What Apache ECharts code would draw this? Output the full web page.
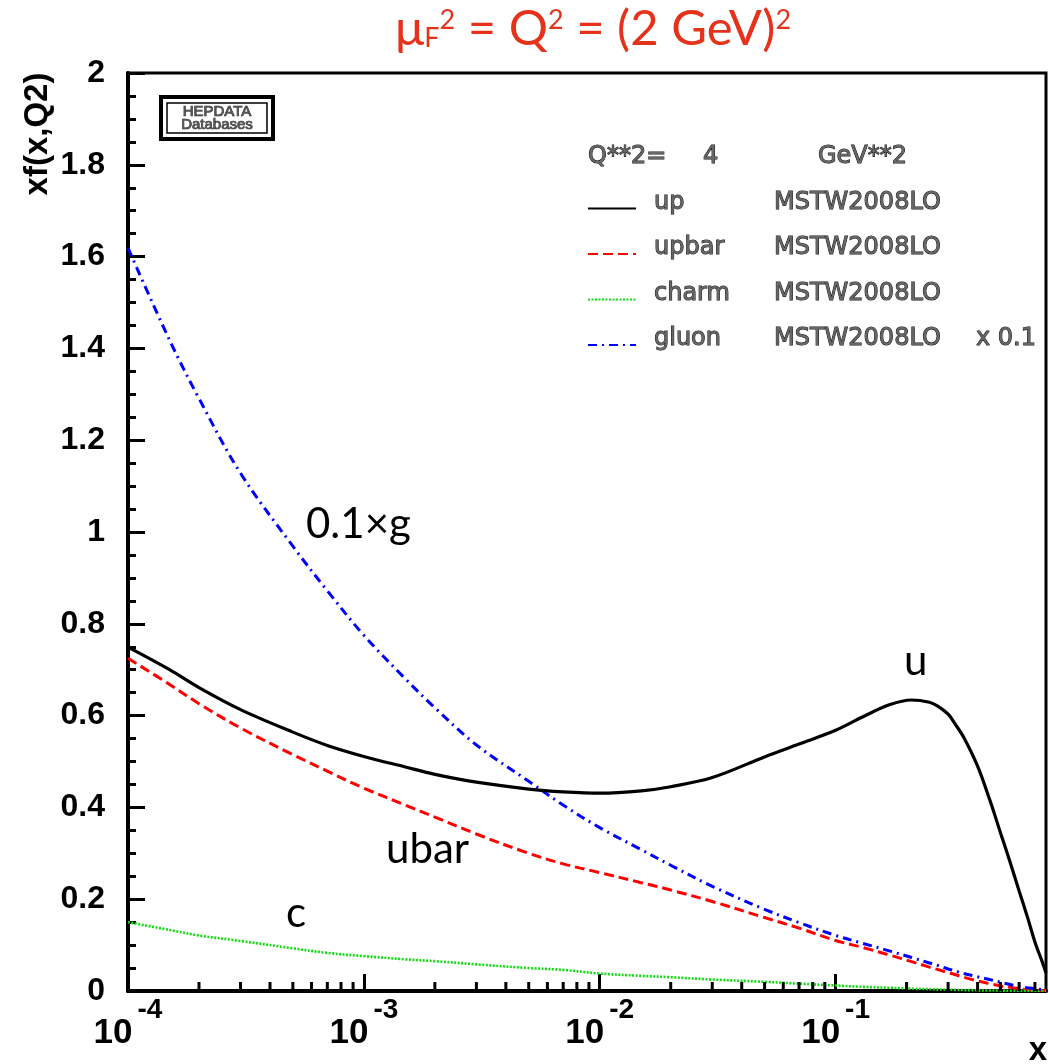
<!DOCTYPE html>
<html>
<head>
<meta charset="utf-8">
<script src="https://cdn.jsdelivr.net/npm/echarts@6/dist/echarts.min.js"></script>
<style>
  html, body { margin: 0; padding: 0; background: #fff; }
  #chart { width: 1049px; height: 1064px; }
</style>
</head>
<body>
<div id="chart"></div>
<script>
// x values (log axis) and the four curves
const xs = [1e-4, 1.5e-4, 2e-4, 3e-4, 5e-4, 7e-4,
            1e-3, 1.5e-3, 2e-3, 3e-3, 5e-3, 7e-3,
            1e-2, 1.5e-2, 2e-2, 3e-2, 5e-2, 7e-2,
            0.1, 0.13, 0.17, 0.21, 0.25, 0.27, 0.3, 0.32, 0.35, 0.4, 0.45, 0.5, 0.55, 0.6, 0.65, 0.7, 0.75, 0.78];
const up = [0.749, 0.700, 0.661, 0.613, 0.564, 0.535,
            0.511, 0.488, 0.472, 0.455, 0.440, 0.434,
            0.431, 0.436, 0.445, 0.465, 0.510, 0.538,
            0.568, 0.597, 0.624, 0.634, 0.629, 0.621, 0.603, 0.583, 0.552, 0.490, 0.417, 0.345, 0.280, 0.218, 0.162, 0.107, 0.065, 0.040];
const upbar = [0.725, 0.668, 0.626, 0.573, 0.515, 0.479,
               0.442, 0.405, 0.379, 0.342, 0.300, 0.277,
               0.258, 0.236, 0.220, 0.195, 0.160, 0.137,
               0.110, 0.095, 0.078, 0.064, 0.052, 0.047, 0.040, 0.036, 0.030, 0.022, 0.016, 0.011, 0.008, 0.005, 0.003, 0.002, 0.001, 0.001];
const charm = [0.150, 0.133, 0.121, 0.109, 0.093, 0.083,
               0.076, 0.069, 0.065, 0.058, 0.050, 0.046,
               0.038, 0.033, 0.030, 0.025, 0.020, 0.016,
               0.012, 0.009, 0.007, 0.005, 0.004, 0.0035, 0.003, 0.0025, 0.002, 0.0015, 0.001, 0.001, 0.0005, 0.0005, 0.0003, 0.0002, 0.0001, 0.0001];
const gluon = [1.619, 1.418, 1.291, 1.128, 0.969, 0.872,
               0.775, 0.680, 0.617, 0.536, 0.457, 0.405,
               0.356, 0.308, 0.274, 0.228, 0.178, 0.149,
               0.121, 0.104, 0.087, 0.073, 0.061, 0.056, 0.048, 0.044, 0.038, 0.031, 0.025, 0.019, 0.014, 0.010, 0.007, 0.005, 0.003, 0.002];

// log-axis minor tick positions (2..9 per decade)
const minorTicksX = [2e-4, 3e-4, 4e-4, 5e-4, 6e-4, 7e-4, 8e-4, 9e-4,
                     2e-3, 3e-3, 4e-3, 5e-3, 6e-3, 7e-3, 8e-3, 9e-3,
                     2e-2, 3e-2, 4e-2, 5e-2, 6e-2, 7e-2, 8e-2, 9e-2,
                     0.2, 0.3, 0.4, 0.5, 0.6, 0.7];

const legendNames = ['up', 'upbar', 'charm', 'gluon'];

const pairs = arr => xs.map((x, i) => [x, arr[i]]);

const HELV = '"Liberation Sans", Arial, sans-serif';
const ROOTFONT = '"DejaVu Sans", "Liberation Sans", sans-serif';
const GILL = 'Lato, "Open Sans", sans-serif';
const TITLE_RED = '#e5331b';
const hollow = { fill: '#666', stroke: '#111', lineWidth: 1 };

const chart = echarts.init(document.getElementById('chart'), null, { renderer: 'canvas' });

const titleTok = (size, lh, pad) => ({
  fontFamily: GILL, fontWeight: 'normal', fontSize: size, lineHeight: lh, color: TITLE_RED,
  verticalAlign: 'middle', padding: pad
});

chart.setOption({
  animation: false,
  backgroundColor: '#fff',
  title: {
    left: 395,
    top: -1,
    padding: 0,
    text: '{a|μ}{sub|F}{sup|2}{a| = Q}{sup|2}{a| = (2 GeV)}{sup|2}',
    textStyle: {
      fontWeight: 'normal',
      rich: {
        a: titleTok(49, 60, [0, 0, 0, 0]),
        sub: titleTok(27, 27, [19, 0, 0, 0]),
        sup: titleTok(27, 27, [0, 0, 17, 0])
      }
    }
  },
  grid: {
    left: 128, right: 3, top: 73, bottom: 73,
    show: true, borderColor: '#000', borderWidth: 3,
    outerBoundsMode: 'none'
  },
  legend: {
    data: legendNames,
    orient: 'vertical',
    left: 587,
    top: 190,
    padding: 0,
    itemWidth: 48,
    itemHeight: 14,
    itemGap: 9,
    selectedMode: false,
    itemStyle: { opacity: 0, borderWidth: 0 },
    formatter: name => '{n|' + name + '}{m|MSTW2008LO}' + (name === 'gluon' ? '{k|x 0.1}' : ''),
    textStyle: {
      fontFamily: ROOTFONT,
      fontSize: 24,
      color: hollow.fill,
      textBorderColor: hollow.stroke,
      textBorderWidth: hollow.lineWidth,
      rich: {
        n: { width: 120, fontSize: 24, lineHeight: 25, padding: [0, 0, 12, 13] },
        m: { width: 202, fontSize: 24, lineHeight: 25, padding: [0, 0, 12, 0] },
        k: { fontSize: 24, lineHeight: 25, padding: [0, 0, 12, 0] }
      }
    }
  },
  xAxis: {
    type: 'log',
    logBase: 10,
    min: 1e-4,
    max: 0.78,
    splitLine: { show: false },
    axisLine: { lineStyle: { color: '#000', width: 4 } },
    axisTick: { inside: true, length: 17, lineStyle: { color: '#000', width: 3 } },
    axisLabel: {
      margin: 12,
      showMinLabel: true,
      showMaxLabel: false,
      color: '#000',
      formatter: v => {
        const e = Math.log10(v);
        if (Math.abs(e - Math.round(e)) > 1e-6) return '';
        return '{b|10}{s|' + Math.round(e) + '}';
      },
      rich: {
        b: { fontFamily: HELV, fontWeight: 'bold', fontSize: 35, lineHeight: 36, color: '#000', padding: [24, 0, 0, 0] },
        s: { fontFamily: HELV, fontWeight: 'bold', fontSize: 28, lineHeight: 26, color: '#000', padding: [0, 0, 22, 5] }
      }
    }
  },
  yAxis: {
    type: 'value',
    min: 0,
    max: 2,
    interval: 0.2,
    splitLine: { show: false },
    axisLine: { lineStyle: { color: '#000', width: 4 } },
    axisTick: { inside: true, length: 17, lineStyle: { color: '#000', width: 3 } },
    minorTick: { show: true, splitNumber: 4, length: 8, lineStyle: { color: '#000', width: 3 } },
    axisLabel: {
      margin: 23,
      color: '#000',
      fontFamily: HELV,
      fontWeight: 'bold',
      fontSize: 32
    }
  },
  series: [
    {
      name: 'up', type: 'line', data: pairs(up), symbol: 'none', smooth: 0.35,
      lineStyle: { color: '#000', width: 3.2, type: 'solid' }, itemStyle: { color: '#000' }, z: 4
    },
    {
      name: 'upbar', type: 'line', data: pairs(upbar), symbol: 'none', smooth: 0.35,
      lineStyle: { color: '#ff0000', width: 3, type: [10, 5] }, itemStyle: { color: '#ff0000' }, z: 3
    },
    {
      name: 'charm', type: 'line', data: pairs(charm), symbol: 'none', smooth: 0.35,
      lineStyle: { color: '#11dd11', width: 2.6, type: [2, 1.5] }, itemStyle: { color: '#11dd11' }, z: 3
    },
    {
      name: 'gluon', type: 'line', data: pairs(gluon), symbol: 'none', smooth: 0.35,
      lineStyle: { color: '#0000ff', width: 3, type: [9, 5, 2, 5] }, itemStyle: { color: '#0000ff' }, z: 3
    },
    {
      name: 'minor ticks', type: 'custom', silent: true, z: 6,
      data: minorTicksX.map(v => [v, 0]),
      renderItem: (params, api) => {
        const p = api.coord([api.value(0), 0]);
        return {
          type: 'line',
          shape: { x1: p[0], y1: p[1], x2: p[0], y2: p[1] - 9 },
          style: { stroke: '#000', lineWidth: 3 }
        };
      }
    }
  ],
  graphic: [
    // axis titles
    {
      type: 'text', x: 38, y: 134, rotation: Math.PI / 2,
      style: { text: 'xf(x,Q2)', fill: '#000', fontFamily: HELV, fontWeight: 'bold', fontSize: 33,
               textAlign: 'center', textVerticalAlign: 'middle', align: 'center', verticalAlign: 'middle' }
    },
    {
      type: 'text', x: 1038, y: 1051,
      style: { text: 'x', fill: '#000', fontFamily: HELV, fontWeight: 'bold', fontSize: 33,
               textAlign: 'center', textVerticalAlign: 'middle', align: 'center', verticalAlign: 'middle' }
    },
    // legend header
    {
      type: 'text', x: 588, y: 157,
      style: Object.assign({ text: 'Q**2=', fontFamily: ROOTFONT, fontSize: 24,
               textVerticalAlign: 'middle', verticalAlign: 'middle' }, hollow)
    },
    {
      type: 'text', x: 703, y: 157,
      style: Object.assign({ text: '4', fontFamily: ROOTFONT, fontSize: 24,
               textVerticalAlign: 'middle', verticalAlign: 'middle' }, hollow)
    },
    {
      type: 'text', x: 818, y: 157,
      style: Object.assign({ text: 'GeV**2', fontFamily: ROOTFONT, fontSize: 24,
               textVerticalAlign: 'middle', verticalAlign: 'middle' }, hollow)
    },
    // HEPDATA badge
    {
      type: 'rect', shape: { x: 161, y: 97, width: 112, height: 42 },
      style: { fill: '#fff', stroke: '#000', lineWidth: 4 }
    },
    {
      type: 'rect', shape: { x: 167, y: 103, width: 100, height: 30 },
      style: { fill: '#fff', stroke: '#000', lineWidth: 1.5 }
    },
    {
      type: 'text', x: 217, y: 112,
      style: Object.assign({ text: 'HEPDATA', fontFamily: HELV, fontSize: 15,
               textAlign: 'center', textVerticalAlign: 'middle', align: 'center', verticalAlign: 'middle' },
               { fill: '#555', stroke: '#111', lineWidth: 0.7 })
    },
    {
      type: 'text', x: 217, y: 125,
      style: Object.assign({ text: 'Databases', fontFamily: HELV, fontSize: 15,
               textAlign: 'center', textVerticalAlign: 'middle', align: 'center', verticalAlign: 'middle' },
               { fill: '#555', stroke: '#111', lineWidth: 0.7 })
    },
    // curve annotations
    {
      type: 'text', x: 306, y: 524,
      style: { text: '0.1×g', fill: '#000', fontFamily: GILL, fontSize: 42, textVerticalAlign: 'middle', verticalAlign: 'middle' }
    },
    {
      type: 'text', x: 904, y: 661,
      style: { text: 'u', fill: '#000', fontFamily: GILL, fontSize: 42, textVerticalAlign: 'middle', verticalAlign: 'middle' }
    },
    {
      type: 'text', x: 386, y: 849,
      style: { text: 'ubar', fill: '#000', fontFamily: GILL, fontSize: 42, textVerticalAlign: 'middle', verticalAlign: 'middle' }
    },
    {
      type: 'text', x: 286, y: 913,
      style: { text: 'c', fill: '#000', fontFamily: GILL, fontSize: 42, textVerticalAlign: 'middle', verticalAlign: 'middle' }
    }
  ]
});
</script>
</body>
</html>
